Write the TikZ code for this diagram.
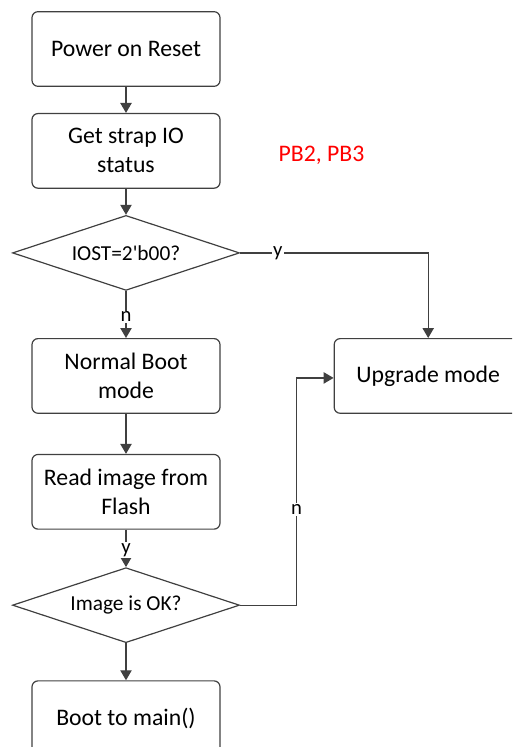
\documentclass[tikz,border=0pt]{standalone}
\usepackage{fontspec}
\setmainfont{Carlito}
\newfontfamily\diafont{Carlito}
\usetikzlibrary{positioning, shapes.geometric, arrows.meta, calc}

\begin{document}
\begin{tikzpicture}
\tikzstyle{stepbox}=[rectangle, rounded corners=4.5pt, draw=black!75, line width=0.9pt, minimum width=141pt, minimum height=56pt, align=center, font=\fontsize{17.8}{21.75}\selectfont, inner sep=2pt]
\tikzstyle{decide}=[diamond, aspect=3, draw=black!75, line width=0.9pt, minimum width=170.25pt, minimum height=56.25pt, inner sep=0pt, font=\diafont\fontsize{16}{19}\selectfont]
\tikzstyle{connect}=[-{Triangle[length=7.5pt, width=8.5pt]}, draw=black!75, line width=1pt]
\tikzstyle{lbl}=[fill=white, inner sep=1pt, font=\fontsize{15.5}{17}\selectfont]
    \clip (0pt,0pt) rectangle (384pt,-560.25pt);
    \useasboundingbox (0pt,0pt) rectangle (384pt,-560.25pt);

    \node[stepbox] (reset) at (94.5pt,-36.75pt) {Power on Reset};
    \node[stepbox] (strap) [below=19.5pt of reset] {Get strap IO\\status};
    \node[decide] (iost) [below=19.5pt of strap] {IOST=2'b00?};
    \node[stepbox] (normal) [below=35.25pt of iost] {Normal Boot\\mode};
    \node[stepbox] (upgrade) [right=84.75pt of normal] {Upgrade mode};
    \node[stepbox] (read) [below=30pt of normal] {Read image from\\Flash};
    \node[decide] (imgok) [below=28pt of read] {Image is OK?};
    \node[stepbox] (boot) [below=27.75pt of imgok] {Boot to main()};
    \node[text=red, anchor=west, font=\fontsize{17.8}{21.75}\selectfont] (pins) [right=40pt of strap, yshift=-3pt] {PB2, PB3};
    \coordinate (turn) at ($(upgrade.west)+(-27.75pt,-1.5pt)$);

    \draw[connect] (reset) -- (strap);
    \draw[connect] (strap) -- (iost);
    \draw[connect] (iost.east) -| node[lbl, pos=0.1] {y} (upgrade.north);
    \draw[connect] (iost) -- node[lbl, pos=0.55] {n} (normal);
    \draw[connect] (normal) -- (read);
    \draw[connect] (read) -- node[lbl, pos=0.55] {y} (imgok);
    \draw[connect] (imgok.east) -| node[lbl, pos=0.71] {n} (turn) -- (turn -| upgrade.west);
    \draw[connect] (imgok) -- (boot);
\end{tikzpicture}
\end{document}
